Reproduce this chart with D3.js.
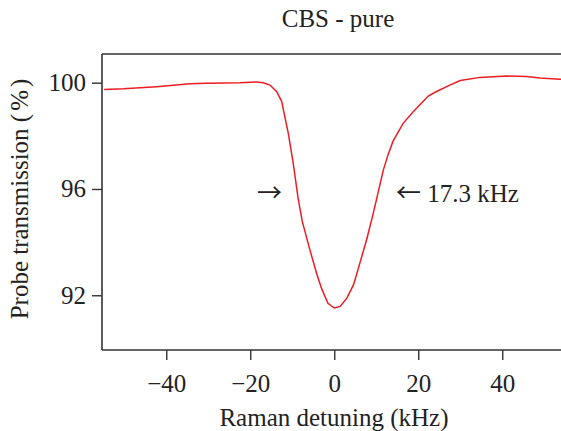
<!DOCTYPE html>
<html>
<head>
<meta charset="utf-8">
<script src="https://cdn.jsdelivr.net/npm/d3@7/dist/d3.min.js"></script>
<style>
  html, body { margin: 0; padding: 0; background: #fff; }
  svg { display: block; }
  text { font-family: "Liberation Serif", "Times New Roman", serif; fill: #222; }
</style>
</head>
<body>
<svg id="chart" width="561" height="431"></svg>
<script>
// ---- data ----
const detuning = [-54.8, -50.2, -42.3, -38.3, -34.4, -30.4, -26.4, -22.5, -18.5, -16.9, -15.3, -13.7, -12.5, -12.1, -10.95, -9.8, -8.6, -7.6, -5.8, -4.2, -3.0, -1.5, 0.0, 1.4, 3.0, 4.6, 6.1, 7.7, 9.3, 11.7, 12.9, 14.0, 16.4, 18.8, 22.4, 24.0, 27.5, 30.0, 34.7, 41.0, 45.8, 49.0, 53.7, 55.0];
const transmission = [99.74, 99.77, 99.85, 99.90, 99.96, 99.98, 99.99, 100.00, 100.03, 100.00, 99.91, 99.66, 99.29, 98.97, 98.10, 97.00, 95.65, 94.77, 93.71, 92.82, 92.25, 91.70, 91.52, 91.58, 91.89, 92.40, 93.21, 94.09, 95.09, 96.72, 97.33, 97.80, 98.47, 98.91, 99.50, 99.64, 99.91, 100.08, 100.20, 100.25, 100.23, 100.18, 100.13, 100.12];
const xTicks = [-40, -20, 0, 20, 40];
const yTicks = [92, 96, 100];
const titleText = "CBS - pure";
const xLabel = "Raman detuning (kHz)";
const annotation = "17.3 kHz";

(function () {
const svg = d3.select("#chart");
const mLeft = 102, mRight = 566.5, mTop = 54, mBottom = 350;
const x = d3.scaleLinear().domain([-55.3, 55.3]).range([mLeft, mRight]);
const y = d3.scaleLinear().domain([89.94, 101.08]).range([mBottom, mTop]);
const FS = 25;
const axisColor = "#333";
const arrowFont = "'Noto Sans CJK JP', 'DejaVu Sans', sans-serif";

// frame (top line)
svg.append("line")
  .attr("x1", mLeft).attr("x2", mRight).attr("y1", mTop).attr("y2", mTop)
  .attr("stroke", axisColor).attr("stroke-width", 1.6);

// x axis
const gx = svg.append("g").attr("transform", `translate(0,${mBottom})`)
  .call(d3.axisBottom(x).tickValues(xTicks).tickSize(10).tickSizeOuter(0).tickPadding(14));
// y axis
const gy = svg.append("g").attr("transform", `translate(${mLeft},0)`)
  .call(d3.axisLeft(y).tickValues(yTicks).tickSize(10).tickSizeOuter(0).tickPadding(6));

[gx, gy].forEach(g => {
  g.select(".domain").attr("stroke", axisColor).attr("stroke-width", 1.6);
  g.selectAll(".tick line").attr("stroke", axisColor).attr("stroke-width", 1.4);
  g.selectAll(".tick text").attr("font-size", FS).attr("fill", "#222");
});
gy.select(".domain").attr("d", `M0,${mTop}V${mBottom}`);
gx.select(".domain").attr("d", `M${mLeft},0H${mRight}`);

// curve
const line = d3.line().x((d, i) => x(detuning[i])).y((d, i) => y(transmission[i]));
svg.append("path")
  .datum(transmission)
  .attr("d", line)
  .attr("fill", "none")
  .attr("stroke", "#ec1c24")
  .attr("stroke-width", 1.5);

// title
svg.append("text").attr("x", 338).attr("y", 27).attr("text-anchor", "middle")
  .attr("font-size", FS).text(titleText);

// x label
svg.append("text").attr("x", 334).attr("y", 426).attr("text-anchor", "middle")
  .attr("font-size", FS).text(xLabel);

// y label
const yl = svg.append("text")
  .attr("transform", `translate(28,${(mTop + mBottom) / 2 - 3}) rotate(-90)`)
  .attr("text-anchor", "middle").attr("font-size", FS);
yl.append("tspan").text("Probe transmission (");
yl.append("tspan").attr("dx", 3).text("%");
yl.append("tspan").attr("dx", 3).text(")");

// annotations
svg.append("text").attr("x", 257).attr("y", 201.7).attr("font-size", FS)
  .style("font-family", arrowFont).text("\u2192");
const ann = svg.append("text").attr("x", 396).attr("y", 201.7).attr("font-size", FS);
ann.append("tspan").style("font-family", arrowFont).text("\u2190");
ann.append("tspan").text(" " + annotation);
})();
</script>
</body>
</html>
